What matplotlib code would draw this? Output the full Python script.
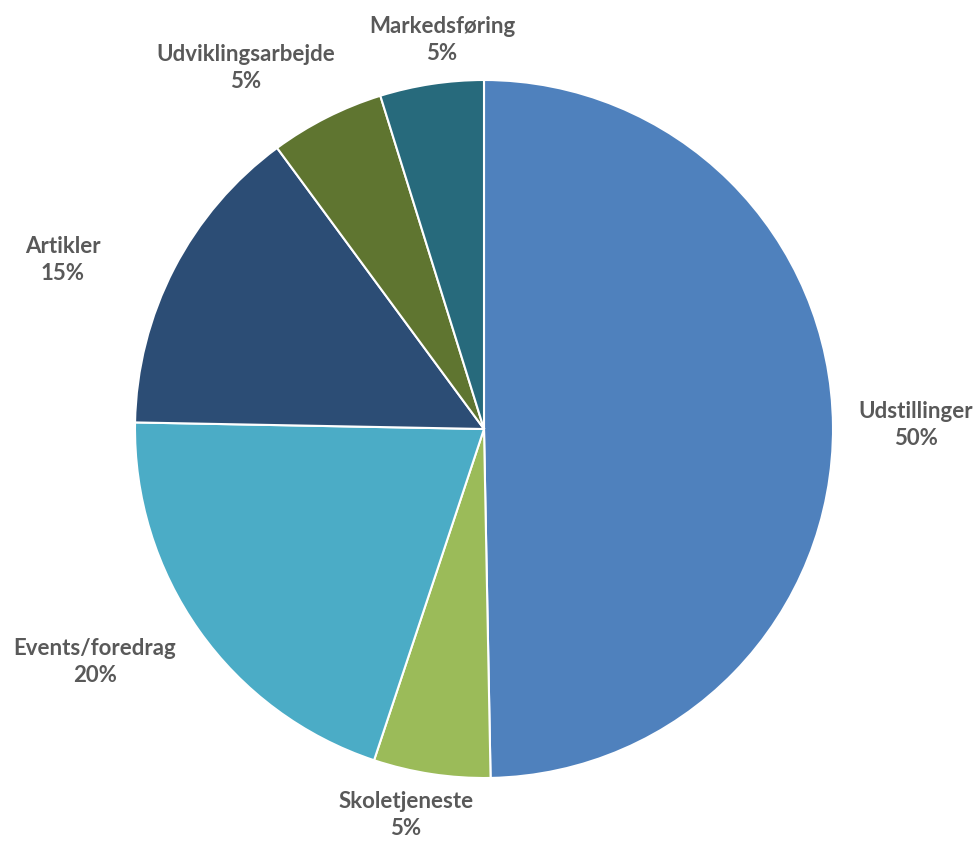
import matplotlib
matplotlib.use( 'Agg' )
import matplotlib.pyplot as plt

categories = ['Udstillinger', 'Skoletjeneste', 'Events/foredrag', 'Artikler', 'Udviklingsarbejde', 'Markedsføring']
shares = [49.7, 5.4, 20.2, 14.6, 5.3, 4.8]
colors = ['#4F81BD', '#9BBB59', '#4BACC6', '#2C4D75', '#5F7530', '#276A7C']

# label centres in pixels (from top-left of the picture)
label_pos = [( 916 , 425 ) , ( 406 , 815 ) , ( 95 , 662 ) , ( 63 , 260 ) , ( 246 , 68 ) , ( 442 , 40 )]

W , H = 979 , 842
r = 349.0
cx , cy = 484.0 , 429.0

fig = plt.figure( figsize = ( W / 100 , H / 100 ) , dpi = 100 )
ax = fig.add_axes( [0, 0, 1, 1] )
wedges , _ = ax.pie( shares , colors = colors , startangle = 90 , counterclock = False ,
                     wedgeprops = dict( edgecolor = 'white' , linewidth = 1.5 ) )

total = sum( shares )
for name , v , ( px , py ) in zip( categories , shares , label_pos ):
    ax.text( ( px - cx ) / r , ( cy - py ) / r , f'{name}\n{round( v / total * 100 )}%' ,
             ha = 'center' , va = 'center' , fontsize = 16 , fontweight = 'bold' ,
             color = '#595959' , family = 'Lato' , linespacing = 1.3 )

ax.set_aspect( 'auto' )
ax.set_xlim( -cx / r , ( W - cx ) / r )
ax.set_ylim( -( H - cy ) / r , cy / r )
ax.axis( 'off' )
fig.savefig( 'out.png' , dpi = 100 , facecolor = 'white' )
